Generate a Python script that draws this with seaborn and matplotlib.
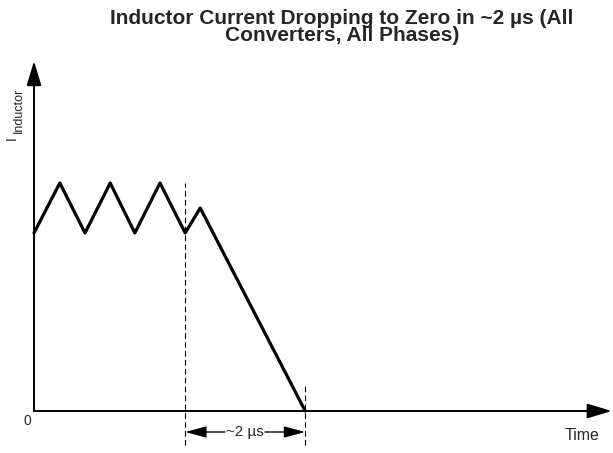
import matplotlib
matplotlib.use("Agg")
import matplotlib.pyplot as plt
import seaborn as sns
import pandas as pd

# waveform: time in µs, current in arbitrary units
time_us = [0.0, 0.43, 0.85, 1.27, 1.68, 2.1, 2.52, 2.77, 4.52]
current = [1.78, 2.28, 1.78, 2.28, 1.78, 2.28, 1.78, 2.03, 0.0]
fall_start = 2.52   # left dashed marker
fall_end = 4.52     # right dashed marker
span_label = "~2 µs"
title = "Inductor Current Dropping to Zero in ~2 µs (All\nConverters, All Phases)"

sns.set_style("white")
plt.rcParams["font.family"] = ["Liberation Sans", "DejaVu Sans"]

df = pd.DataFrame({"t": time_us, "i": current})

fig = plt.figure(figsize=(6.13, 4.53), dpi=100)
ax = fig.add_axes([0, 0, 1, 1])
ax.set_xlim(-0.567, 9.65)
ax.set_ylim(-0.42, 4.11)
ax.axis("off")

sns.lineplot(data=df, x="t", y="i", ax=ax, color="black", lw=2.3,
             sort=False, estimator=None)

# axes with arrow heads
arrow = dict(arrowstyle="-|>,head_length=1.5,head_width=0.45", color="black",
             lw=1.4, shrinkA=0, shrinkB=0)
ax.annotate("", xy=(0, 3.5), xytext=(0, 0), arrowprops=arrow)
ax.annotate("", xy=(9.63, 0), xytext=(0, 0), arrowprops=arrow)

# dashed markers
ax.plot([fall_start, fall_start], [-0.34, 2.28], color="black", lw=0.8, ls=(0, (5, 3)))
ax.plot([fall_end, fall_end], [-0.34, 0.26], color="black", lw=0.8, ls=(0, (5, 3)))

# dimension arrow
mid = (fall_start + fall_end) / 2
dim = dict(arrowstyle="-|>,head_length=1.3,head_width=0.35", color="black",
           lw=1.0, shrinkA=0, shrinkB=0)
ax.annotate("", xy=(fall_start, -0.21), xytext=(mid - 0.34, -0.21), arrowprops=dim)
ax.annotate("", xy=(fall_end, -0.21), xytext=(mid + 0.33, -0.21), arrowprops=dim)
ax.text(mid, -0.21, span_label, ha="center", va="center", fontsize=11)

ax.text(-0.11, -0.10, "0", ha="center", va="center", fontsize=10)
ax.text(9.13, -0.25, "Time", ha="center", va="center", fontsize=11.5)
ax.text(-0.367, 2.73, "I", ha="center", va="center", rotation=90, fontsize=10)
ax.text(-0.258, 3.01, "Inductor", ha="center", va="center", rotation=90, fontsize=9)

fig.text(0.558, 0.941, title, ha="center", va="center", fontsize=15,
         fontweight="bold", linespacing=0.85)

fig.savefig("out.png", dpi=100)
